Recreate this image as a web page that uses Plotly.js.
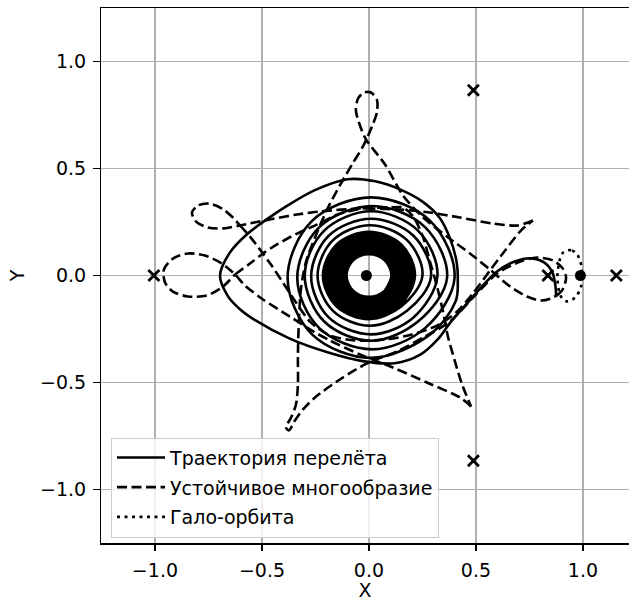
<!DOCTYPE html>
<html>
<head>
<meta charset="utf-8">
<script src="https://cdn.plot.ly/plotly-3.0.1.min.js"></script>
<style>html,body{margin:0;padding:0;background:#fff;}</style>
</head>
<body>
<div id="chart" style="width:629px;height:601px;"></div>
<script>
// ---- data ----
const seriesNames = ["Траектория перелёта", "Устойчивое многообразие", "Гало-орбита"];

// transfer trajectory (solid): spiral around the Earth, big loops, then the leg to L1
const transferX = [
  0.074,
  0.105,0.074,0,-0.074,-0.105,-0.074,0,0.074,
  0.115,0.081,0,-0.081,-0.115,-0.081,0,0.081,
  0.125,0.088,0,-0.088,-0.125,-0.088,0,0.088,
  0.135,0.095,0,-0.095,-0.135,-0.095,0,0.095,
  0.145,0.103,0,-0.103,-0.145,-0.103,0,0.103,
  0.155,0.110,0,-0.110,-0.155,-0.110,0,0.110,
  0.165,0.117,0,-0.117,-0.165,-0.117,0,0.117,
  0.175,0.124,0,-0.124,-0.175,-0.124,0,0.124,
  0.185,0.131,0,-0.131,-0.185,-0.131,0,0.131,
  0.195,0.138,0,-0.138,-0.195,-0.138,0,0.138,
  0.205,0.145,0,-0.145,-0.205,-0.145,0,0.145,
  0.215,0.152,0,-0.152,-0.215,-0.152,0,0.152,
  0.25,0.178,0.005,-0.168,-0.24,-0.168,0.005,0.178,
  0.29,0.208,0.01,-0.188,-0.27,-0.188,0.01,0.208,
  0.32,0.229,0.01,-0.209,-0.30,-0.209,0.01,0.229,
  0.365,0.262,0.015,-0.232,-0.335,-0.232,0.015,0.262,
  0.40,0.286,0.01,-0.266,-0.38,-0.266,0.01,0.286,
  0.405,0.415,0.41,0.38,0.33,0.25,0.15,0.03,-0.10,-0.25,-0.385,-0.478,-0.571,-0.65,-0.696,-0.66,-0.60,-0.53,-0.37,-0.19,-0.03,0.12,0.24,0.32,
  0.38,0.45,0.52,0.60,0.68,0.76,0.82,0.855,0.87,0.875
];
const transferY = [
  -0.071,
  0,0.071,0.100,0.071,0,-0.071,-0.100,-0.071,
  0,0.077,0.109,0.077,0,-0.077,-0.109,-0.077,
  0,0.084,0.119,0.084,0,-0.084,-0.119,-0.084,
  0,0.091,0.128,0.091,0,-0.091,-0.128,-0.091,
  0,0.097,0.138,0.097,0,-0.097,-0.138,-0.097,
  0,0.104,0.147,0.104,0,-0.104,-0.147,-0.104,
  0,0.111,0.157,0.111,0,-0.111,-0.157,-0.111,
  0,0.118,0.166,0.118,0,-0.118,-0.166,-0.118,
  0,0.124,0.176,0.124,0,-0.124,-0.176,-0.124,
  0,0.131,0.185,0.131,0,-0.131,-0.185,-0.131,
  0,0.138,0.195,0.138,0,-0.138,-0.195,-0.138,
  0,0.144,0.204,0.144,0,-0.144,-0.204,-0.144,
  0,0.165,0.235,0.165,0,-0.165,-0.235,-0.165,
  -0.005,0.186,0.265,0.186,-0.005,-0.196,-0.275,-0.196,
  0,0.21,0.30,0.21,0,-0.215,-0.305,-0.215,
  -0.01,0.226,0.325,0.226,-0.01,-0.246,-0.345,-0.246,
  -0.01,0.255,0.365,0.255,-0.01,-0.275,-0.385,-0.275,
  -0.12,-0.02,0.06,0.17,0.27,0.345,0.40,0.44,0.45,0.40,0.324,0.262,0.192,0.107,0.0,-0.095,-0.16,-0.21,-0.295,-0.36,-0.40,-0.41,-0.37,-0.30,
  -0.22,-0.14,-0.06,0.02,0.065,0.08,0.06,0.02,-0.04,-0.10
];

// stable manifold (dashed): strokes separated by null
const manifoldX = [
  0.921,0.902,0.860,0.804,0.738,0.659,0.565,0.472,0.364,0.248,0.159,0.075,-0.014,
  -0.042,-0.061,-0.051,-0.023,0.009,0.037,0.037,0.014,-0.028,
  -0.079,-0.136,-0.196,-0.252,-0.294,-0.318,-0.327,-0.332,-0.332,-0.341,-0.364,-0.388,-0.374,-0.346,-0.308,-0.252,
  -0.136,-0.009,0.131,0.262,0.379,0.486,0.598,0.706,0.785,0.860,0.902,0.921,
  null,
  -0.603,-0.556,-0.509,-0.458,-0.402,-0.341,-0.271,-0.182,-0.065,0.075,0.201,0.318,0.407,0.486,0.565,0.636,0.710,0.766,
  null,
  0.766,0.696,0.579,0.425,0.285,0.145,-0.042,-0.229,-0.336,-0.463,-0.603,-0.678,-0.752,-0.808,-0.827,-0.799,-0.748,-0.687,-0.636,-0.603,
  null,
  -0.626,-0.556,-0.495,-0.430,-0.336,-0.243,-0.145,-0.033,0.098,0.159,0.206,0.252,0.285,0.318,0.346,0.369,0.402,0.435,0.477,
  null,
  0.477,0.425,0.271,0.112,-0.042,-0.182,-0.276,-0.369,-0.495,-0.579,-0.626,-0.687,-0.766,-0.846,-0.916,-0.958,-0.953,-0.916,-0.846,-0.757,-0.687,-0.626
];
const manifoldY = [
  -0.009,-0.070,-0.103,-0.117,-0.098,-0.051,0.028,0.103,0.182,0.276,0.374,0.519,0.636,
  0.701,0.771,0.827,0.855,0.855,0.822,0.762,0.696,0.603,
  0.519,0.421,0.308,0.178,0.065,-0.065,-0.206,-0.369,-0.509,-0.603,-0.664,-0.710,-0.724,-0.678,-0.626,-0.570,
  -0.486,-0.411,-0.355,-0.285,-0.215,-0.103,0.009,0.065,0.084,0.070,0.037,-0.009,
  null,
  0.234,0.182,0.121,0.051,-0.033,-0.126,-0.220,-0.280,-0.304,-0.299,-0.276,-0.234,-0.173,-0.084,0.023,0.117,0.210,0.257,
  null,
  0.257,0.234,0.243,0.271,0.294,0.308,0.313,0.299,0.285,0.262,0.234,0.220,0.224,0.252,0.294,0.327,0.336,0.313,0.271,0.234,
  null,
  0.005,0.056,0.103,0.145,0.196,0.238,0.285,0.313,0.318,0.318,0.276,0.182,0.065,-0.051,-0.168,-0.285,-0.402,-0.509,-0.612,
  null,
  -0.612,-0.570,-0.500,-0.430,-0.369,-0.304,-0.252,-0.192,-0.112,-0.047,0.005,0.056,0.093,0.103,0.079,0.028,-0.033,-0.075,-0.098,-0.093,-0.056,0.005
];

// halo orbit (dotted)
const haloX = [0.907,0.949,0.981,0.995,0.991,0.963,0.925,0.897,0.883,0.883,0.907];
const haloY = [0.107,0.117,0.084,0.019,-0.051,-0.103,-0.121,-0.098,-0.042,0.028,0.107];

// libration points (x markers) and primaries (dots)
const librationX = [0.836, 1.156, -1.005, 0.488, 0.488];
const librationY = [0, 0, 0, 0.866, -0.866];
const primariesX = [-0.012, 0.988];
const primariesY = [0, 0];

const tickVals = [-1.0, -0.5, 0.0, 0.5, 1.0];
const tickText = ["−1.0", "−0.5", "0.0", "0.5", "1.0"];

// ---- figure ----
const font = {family: "DejaVu Sans, sans-serif", size: 19, color: "#000"};
const traces = [
  {x: transferX, y: transferY, mode: "lines", name: seriesNames[0], legendgroup: "a",
   line: {color: "#000", width: 2.6, shape: "spline", smoothing: 1}},
  {x: manifoldX, y: manifoldY, mode: "lines", name: seriesNames[1], legendgroup: "b", connectgaps: false,
   line: {color: "#000", width: 2.6, dash: "10px,4.5px", shape: "spline", smoothing: 0.8}},
  {x: haloX, y: haloY, mode: "lines", name: seriesNames[2], legendgroup: "c",
   line: {color: "#000", width: 2.6, dash: "3px,4.5px", shape: "spline", smoothing: 1}},
  {x: librationX, y: librationY, mode: "markers", showlegend: false,
   marker: {symbol: "x-thin", size: 11, color: "#000", line: {color: "#000", width: 2.8}}},
  {x: primariesX, y: primariesY, mode: "markers", showlegend: false,
   marker: {symbol: "circle", size: 11, color: "#000"}}
];

const axisCommon = {
  tickvals: tickVals, ticktext: tickText, ticks: "outside", ticklen: 6.5, tickwidth: 1.5, tickcolor: "#000",
  showgrid: true, gridcolor: "#b0b0b0", gridwidth: 1.5, zeroline: false,
  showline: true, linecolor: "#000", linewidth: 1.5, tickfont: font, ticklabelstandoff: 3
};

const layout = {
  width: 629, height: 601,
  margin: {l: 101, r: 0, t: 8, b: 58},
  paper_bgcolor: "#fff", plot_bgcolor: "#fff",
  font: font,
  showlegend: true,
  xaxis: Object.assign({}, axisCommon, {range: [-1.252, 1.215], mirror: true,
    title: {text: "X", font: font, standoff: 5}}),
  yaxis: Object.assign({}, axisCommon, {range: [-1.25, 1.25], mirror: false,
    title: {text: "Y", font: font, standoff: 10}}),
  legend: {x: 0.019, y: 0.197, xanchor: "left", yanchor: "top",
    bgcolor: "rgba(255,255,255,0.8)", bordercolor: "#cccccc", borderwidth: 1,
    font: font, tracegroupgap: 2, itemwidth: 48, traceorder: "grouped"}
};

Plotly.newPlot("chart", traces, layout, {displayModeBar: false, staticPlot: true});
</script>
</body>
</html>
